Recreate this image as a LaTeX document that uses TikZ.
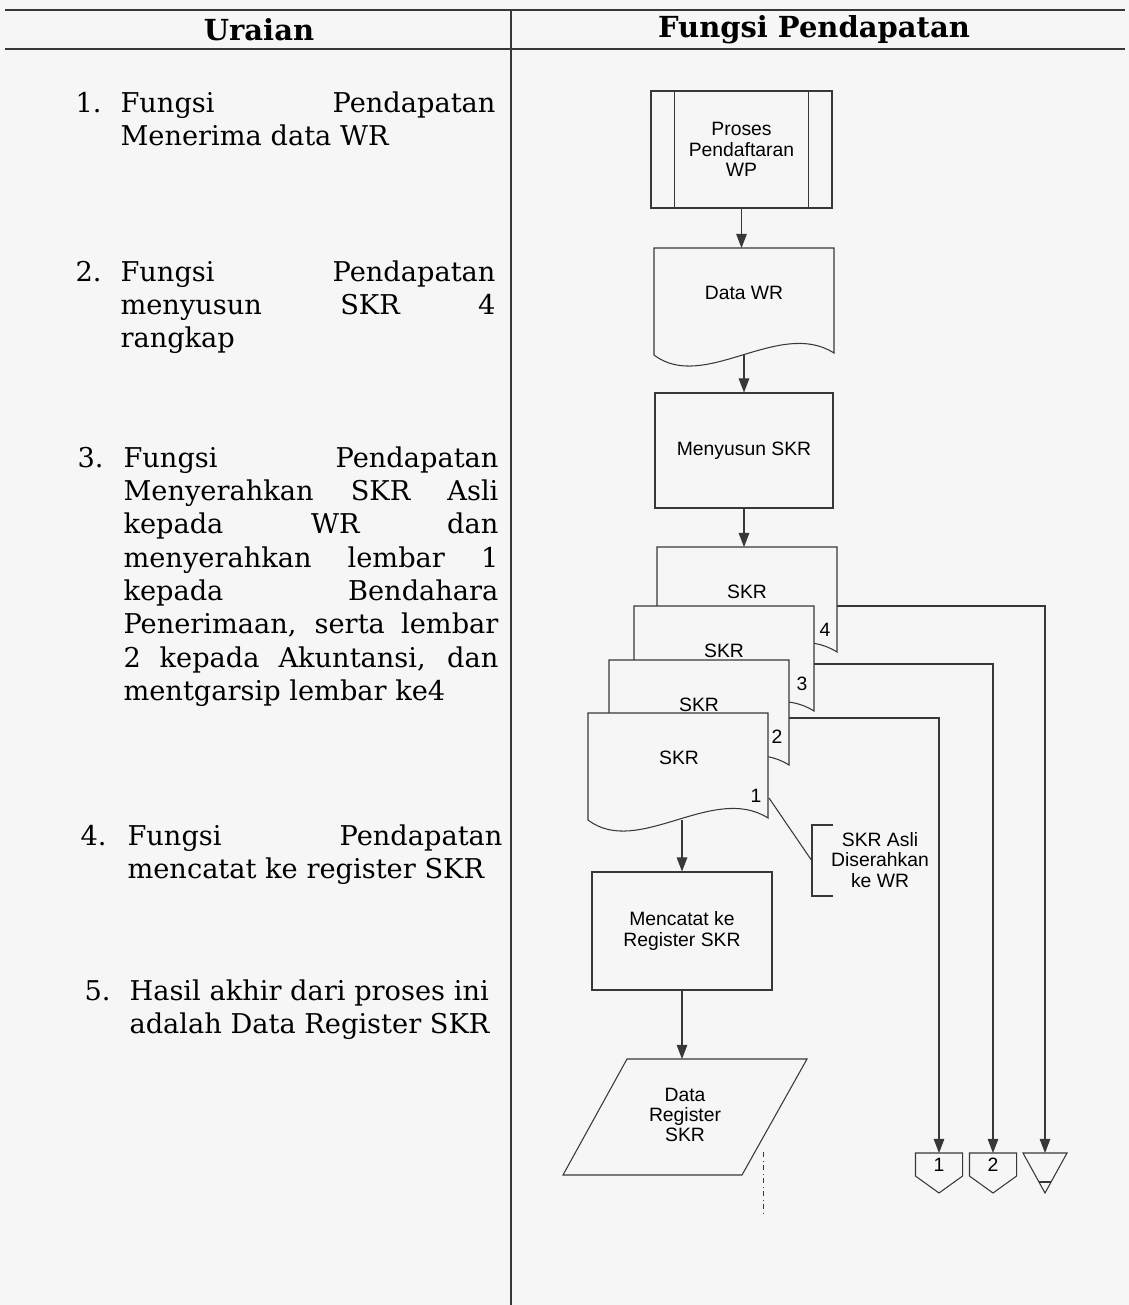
\documentclass[tikz,border=0pt]{standalone}
\usepackage{fontspec}
\setmainfont{DejaVu Serif}
\newfontfamily\flowsans{Liberation Sans}
\usetikzlibrary{arrows.meta}
\definecolor{kertas}{gray}{0.965}
\definecolor{tinta}{gray}{0.22}
% one justified line of the Uraian column
\newcommand\jbaris[1]{\makebox[7.5cm][s]{#1}}
% document symbol, #1,#2 = top left corner
\newcommand\dokumen[2]{%
  \filldraw[fill=kertas] (#1,#2) -- (#1+180,#2) -- (#1+180,#2+105)
    .. controls (#1+125,#2+70) and (#1+50,#2+145) .. (#1,#2+107) -- cycle;}
\begin{document}
\begin{tikzpicture}[x=0.02cm, y=-0.02cm, color=tinta, line width=0.6pt,
    >={Triangle[length=8pt,width=6pt]},
    kotak/.style={draw, fill=kertas, text=black, minimum width=3.6cm, minimum height=2.34cm,
      font=\flowsans\fontsize{11}{11.6}\selectfont, align=center},
    teks/.style={text=black, font=\flowsans\fontsize{11}{11.6}\selectfont, align=center, inner sep=0pt},
    uraian/.style={anchor=base west, text=black, font=\fontsize{15.5}{19}\selectfont, inner sep=0pt},
    judul/.style={text=black, font=\bfseries\fontsize{16.5}{19}\selectfont, inner sep=0pt}]
  \fill[kertas] (0,0) rectangle (1129,1305);
  \useasboundingbox (0,0) rectangle (1129,1305);

  % table frame
  \draw (5,10) -- (1125,10);
  \draw (5,49) -- (1125,49);
  \draw (511,10) -- (511,1305);
  \node[judul] (h1) at (259,30) {Uraian};
  \node[judul] (h2) at (814,30) {Fungsi Pendapatan};

  % Uraian
  \node[uraian] (n1) at (75,112) {1.};
  \node[uraian] (u1) at (120,112) {\parbox[t]{7.5cm}{\jbaris{Fungsi Pendapatan}\\Menerima data WR}};
  \node[uraian] (n2) at (75,281) {2.};
  \node[uraian] (u2) at (120,281) {\parbox[t]{7.5cm}{\jbaris{Fungsi Pendapatan}\\
    \jbaris{menyusun SKR 4}\\rangkap}};
  \node[uraian] (n3) at (77,467) {3.};
  \node[uraian] (u3) at (123,467) {\parbox[t]{7.5cm}{\jbaris{Fungsi Pendapatan}\\
    \jbaris{Menyerahkan SKR Asli}\\\jbaris{kepada WR dan}\\\jbaris{menyerahkan lembar 1}\\
    \jbaris{kepada Bendahara}\\\jbaris{Penerimaan, serta lembar}\\
    \jbaris{2 kepada Akuntansi, dan}\\mentgarsip lembar ke4}};
  \node[uraian] (n4) at (80,845) {4.};
  \node[uraian] (u4) at (127,845) {\parbox[t]{7.5cm}{\jbaris{Fungsi Pendapatan}\\mencatat ke register SKR}};
  \node[uraian] (n5) at (84,1000) {5.};
  \node[uraian] (u5) at (129,1000) {\parbox[t]{7.6cm}{Hasil akhir dari proses ini\\adalah Data Register SKR}};

  % Fungsi Pendapatan
  \node[kotak, minimum width=3.62cm] (proses) at (741.5,149.5) {Proses\\Pendaftaran\\WP};
  \draw ([xshift=0.48cm]proses.north west) -- ([xshift=0.48cm]proses.south west);
  \draw ([xshift=-0.48cm]proses.north east) -- ([xshift=-0.48cm]proses.south east);

  \dokumen{654}{248}
  \node[teks] (datawr) at (744,293) {Data WR};
  \coordinate (datawr-atas) at (741.5,248);
  \coordinate (datawr-bawah) at (744,355);
  \draw[->] (proses) -- (datawr-atas);

  \node[kotak, minimum width=3.56cm, minimum height=2.3cm] (menyusun) at (744,450.5) {Menyusun SKR};
  \draw[->] (datawr-bawah) -- (menyusun.north);

  % SKR 4 rangkap
  \dokumen{657}{547}
  \dokumen{634}{606}
  \dokumen{609}{660}
  \dokumen{588}{713}
  \node[teks] (skr4) at (747,592) {SKR};
  \node[teks] (skr3) at (724,651) {SKR};
  \node[teks] (skr2) at (699,705) {SKR};
  \node[teks] (skr1) at (679,758) {SKR};
  \node[teks] (lb4) at (825,630) {4};
  \node[teks] (lb3) at (802,684) {3};
  \node[teks] (lb2) at (777,737) {2};
  \node[teks] (lb1) at (756,796) {1};
  \coordinate (skr4-atas) at (744,547);
  \coordinate (skr4-out) at (837,606);
  \coordinate (skr3-out) at (814,664);
  \coordinate (skr2-out) at (789,718);
  \coordinate (skr1-bawah) at (682,820);
  \draw[->] (menyusun) -- (skr4-atas);

  % keterangan SKR asli
  \coordinate (skr1-sudut) at (769,798);
  \coordinate (ket) at (812,861);
  \node[teks] (asli) at (880,860) {SKR Asli\\Diserahkan\\ke WR};
  \draw (skr1-sudut) -- (ket);
  \draw (833,825) -- (812,825) -- (812,896) -- (833,896);

  \node[kotak, minimum height=2.36cm] (mencatat) at (682,931) {Mencatat ke\\Register SKR};
  \draw[->] (skr1-bawah) -- (mencatat);

  % data register
  \filldraw[fill=kertas] (627,1059) -- (807,1059) -- (742,1175) -- (563,1175) -- cycle;
  \node[teks] (dataregister) at (685,1115) {Data\\Register\\SKR};
  \coordinate (dataregister-atas) at (682,1059);
  \draw[->] (mencatat) -- (dataregister-atas);
  \draw[line width=0.4pt, dash dot] (763,1152) -- (763,1213);

  % off-page connectors
  \node[teks, minimum width=0.92cm, minimum height=0.44cm, anchor=north] (op1) at (939,1153) {1};
  \draw (op1.north west) -- (op1.north east) -- (op1.south east) -- (939,1193) -- (op1.south west) -- cycle;
  \node[teks, minimum width=0.92cm, minimum height=0.44cm, anchor=north] (op2) at (993,1153) {2};
  \draw (op2.north west) -- (op2.north east) -- (op2.south east) -- (993,1193) -- (op2.south west) -- cycle;
  \coordinate (arsip) at (1045,1153);
  \draw (1023,1153) -- (1067,1153) -- (1045,1193) -- cycle;
  \draw (1039,1182) -- (1051,1182);

  \draw[->] (skr2-out) -| (op1.north);
  \draw[->] (skr3-out) -| (op2.north);
  \draw[->] (skr4-out) -| (arsip);
\end{tikzpicture}
\end{document}
